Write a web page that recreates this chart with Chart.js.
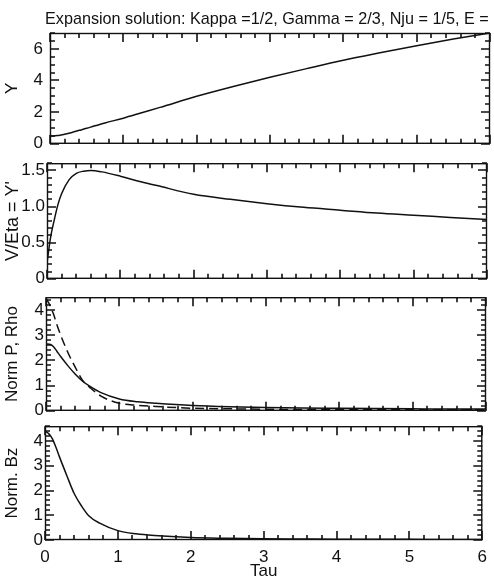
<!DOCTYPE html>
<html>
<head>
<meta charset="utf-8">
<script src="https://cdn.jsdelivr.net/npm/chart.js@4"></script>
<style>
  html, body { margin: 0; padding: 0; background: #fff; }
  body { width: 494px; height: 584px; position: relative; overflow: hidden; }
  .panel { position: absolute; left: 0; width: 494px; }
</style>
</head>
<body>
<div class="panel" id="p1"><canvas id="c1"></canvas></div>
<div class="panel" id="p2"><canvas id="c2"></canvas></div>
<div class="panel" id="p3"><canvas id="c3"></canvas></div>
<div class="panel" id="p4"><canvas id="c4"></canvas></div>
<script>
// values
const taus      = [0, 0.05, 0.1, 0.15, 0.2, 0.3, 0.4, 0.5, 0.6, 0.75, 1, 1.25, 1.5, 2, 2.5, 3, 3.5, 4, 4.5, 5, 5.5, 6];
const yValues   = [0.5, 0.5, 0.52, 0.56, 0.61, 0.72, 0.85, 0.98, 1.12, 1.32, 1.62, 1.96, 2.3, 3.0, 3.62, 4.2, 4.75, 5.28, 5.75, 6.2, 6.62, 7.0];
const vValues   = [0.22, 0.58, 0.82, 1.03, 1.18, 1.37, 1.46, 1.49, 1.5, 1.48, 1.42, 1.35, 1.29, 1.17, 1.1, 1.04, 0.99, 0.95, 0.91, 0.88, 0.85, 0.82];
const pValues   = [2.65, 2.64, 2.55, 2.35, 2.15, 1.78, 1.45, 1.17, 0.97, 0.72, 0.47, 0.36, 0.3, 0.21, 0.16, 0.13, 0.11, 0.1, 0.09, 0.08, 0.07, 0.07];
const rhoValues = [4.45, 4.2, 3.85, 3.4, 3.0, 2.3, 1.72, 1.2, 0.92, 0.58, 0.3, 0.22, 0.17, 0.1, 0.08, 0.06, 0.05, 0.05, 0.04, 0.04, 0.04, 0.04];
const bzValues  = [4.4, 4.3, 4.1, 3.75, 3.35, 2.6, 1.88, 1.38, 0.98, 0.68, 0.38, 0.25, 0.18, 0.1, 0.07, 0.05, 0.04, 0.03, 0.03, 0.03, 0.02, 0.02];

const xTicks   = [0, 1, 2, 3, 4, 5, 6];
const yTicksY  = [0, 2, 4, 6];
const yTicksV  = [0, 0.5, 1.0, 1.5];
const yTicksP  = [0, 1, 2, 3, 4];
const yTicksBz = [0, 1, 2, 3, 4];

const headline = "Expansion solution: Kappa =1/2, Gamma = 2/3, Nju = 1/5, E =";

const FONT = "'Liberation Sans', Arial, Helvetica, sans-serif";
const INK = "#111";

const pts = vals => taus.map((t, i) => ({ x: t, y: vals[i] }));

// pixel for a value on a scale; falls back to the chart area span if the scale gives nothing usable
function pixelOn(scale, v, lo, hi, vmin, vmax, flip) {
  let p = scale.getPixelForValue(v);
  if (!Number.isFinite(p) || p < lo - 2 || p > hi + 2) {
    const f = (v - vmin) / (vmax - vmin);
    p = flip ? hi - f * (hi - lo) : lo + f * (hi - lo);
  }
  return Math.round(p);
}

// box + inward major/minor ticks on all four sides
function frameTicks(cfg) {
  return {
    id: "frame_" + cfg.canvas,
    afterDraw(chart) {
      const ctx = chart.ctx;
      const a = chart.chartArea;
      const xs = chart.scales.x;
      const ys = chart.scales.y;
      ctx.save();
      ctx.strokeStyle = INK;
      ctx.lineWidth = 1.6;
      ctx.lineCap = "butt";
      ctx.setLineDash([]);
      ctx.beginPath();
      for (let i = 0; i <= 30; i++) {
        const px = pixelOn(xs, i * 0.2, a.left, a.right, 0, 6, false);
        const len = i % 5 === 0 ? 9 : 5;
        ctx.moveTo(px, a.bottom);
        ctx.lineTo(px, a.bottom - len);
        ctx.moveTo(px, a.top);
        ctx.lineTo(px, a.top + len);
      }
      const ny = Math.floor(cfg.ymax / cfg.minor + 1e-6);
      const every = Math.round(cfg.major / cfg.minor);
      for (let i = 0; i <= ny; i++) {
        const py = pixelOn(ys, i * cfg.minor, a.top, a.bottom, 0, cfg.ymax, true);
        const len = i % every === 0 ? 9 : 5;
        ctx.moveTo(a.left, py);
        ctx.lineTo(a.left + len, py);
        ctx.moveTo(a.right, py);
        ctx.lineTo(a.right - len, py);
      }
      ctx.stroke();
      ctx.lineWidth = 1.4;
      ctx.strokeRect(a.left + 0.5, a.top + 0.5, a.width - 1, a.height - 1);
      ctx.restore();
    }
  };
}

const titleText = {
  id: "titleText",
  afterDraw(chart) {
    const ctx = chart.ctx;
    ctx.save();
    ctx.fillStyle = INK;
    ctx.font = "16.2px " + FONT;
    ctx.textBaseline = "alphabetic";
    ctx.textAlign = "left";
    ctx.fillText(headline, 45, 24);
    ctx.restore();
  }
};

function makePanel(cfg) {
  const last = !!cfg.last;
  const padT = cfg.padTop;
  const padB = last ? 0 : 12;
  const holder = document.getElementById(cfg.holder);
  const boxTop = cfg.top - padT;
  const boxH = last ? 584 - boxTop : (cfg.bottom - cfg.top) + padT + padB;
  holder.style.top = boxTop + "px";
  holder.style.height = boxH + "px";

  const datasets = cfg.series.map(s => ({
    data: pts(s.values),
    borderColor: INK,
    borderWidth: 1.5,
    borderDash: s.dash || [],
    pointRadius: 0,
    cubicInterpolationMode: "monotone",
    fill: false
  }));

  const plugins = [frameTicks(cfg)];
  if (cfg.extra) plugins.push(cfg.extra);

  return new Chart(document.getElementById(cfg.canvas), {
    type: "line",
    data: { datasets },
    plugins,
    options: {
      responsive: true,
      maintainAspectRatio: false,
      animation: false,
      layout: { padding: { top: padT, bottom: padB, left: 0, right: 494 - cfg.right } },
      plugins: {
        legend: { display: false },
        tooltip: { enabled: false }
      },
      scales: {
        x: {
          type: "linear",
          min: 0,
          max: 6,
          display: last,
          afterBuildTicks: s => { s.ticks = xTicks.map(v => ({ value: v })); },
          afterFit: s => { if (last) s.height = 44; },
          grid: { display: false, drawTicks: false, tickLength: 0 },
          border: { display: false },
          ticks: { color: INK, padding: 7, maxRotation: 0, font: { family: FONT, size: 17 } },
          title: { display: true, text: "Tau", color: INK, padding: { top: 0, bottom: 2 }, font: { family: FONT, size: 17 } }
        },
        y: {
          type: "linear",
          min: 0,
          max: cfg.ymax,
          afterBuildTicks: s => { s.ticks = cfg.yTicks.map(v => ({ value: v })); },
          afterFit: s => { s.width = cfg.left; },
          grid: { display: false, drawTicks: false, tickLength: 0 },
          border: { display: false },
          ticks: {
            color: INK,
            padding: cfg.labelPad,
            font: { family: FONT, size: 17 },
            callback: cfg.fmt || (v => String(v))
          },
          title: { display: true, text: cfg.label, color: INK, padding: { top: 2, bottom: 0 }, font: { family: FONT, size: cfg.labelSize || 17 } }
        }
      }
    }
  });
}

makePanel({
  holder: "p1", canvas: "c1", top: 33, bottom: 149, left: 50, right: 490, padTop: 33,
  ymax: 7, minor: 0.5, major: 2, yTicks: yTicksY, label: "Y", labelPad: 7,
  series: [{ values: yValues }], extra: titleText
});

makePanel({
  holder: "p2", canvas: "c2", top: 163, bottom: 279, left: 47, right: 487, padTop: 12,
  ymax: 1.6, minor: 0.1, major: 0.5, yTicks: yTicksV, label: "V/Eta = Y'", labelPad: 2, labelSize: 18,
  fmt: v => (v === 0 ? "0" : v.toFixed(1)),
  series: [{ values: vValues }]
});

makePanel({
  holder: "p3", canvas: "c3", top: 297, bottom: 411, left: 46, right: 486, padTop: 12,
  ymax: 4.5, minor: 0.2, major: 1, yTicks: yTicksP, label: "Norm P, Rho", labelPad: 2,
  series: [{ values: pValues }, { values: rhoValues, dash: [9, 5] }]
});

makePanel({
  holder: "p4", canvas: "c4", top: 426, bottom: 540, left: 45, right: 485, padTop: 12,
  ymax: 4.6, minor: 0.2, major: 1, yTicks: yTicksBz, label: "Norm. Bz", labelPad: 2,
  series: [{ values: bzValues }], last: true
});
</script>
</body>
</html>
